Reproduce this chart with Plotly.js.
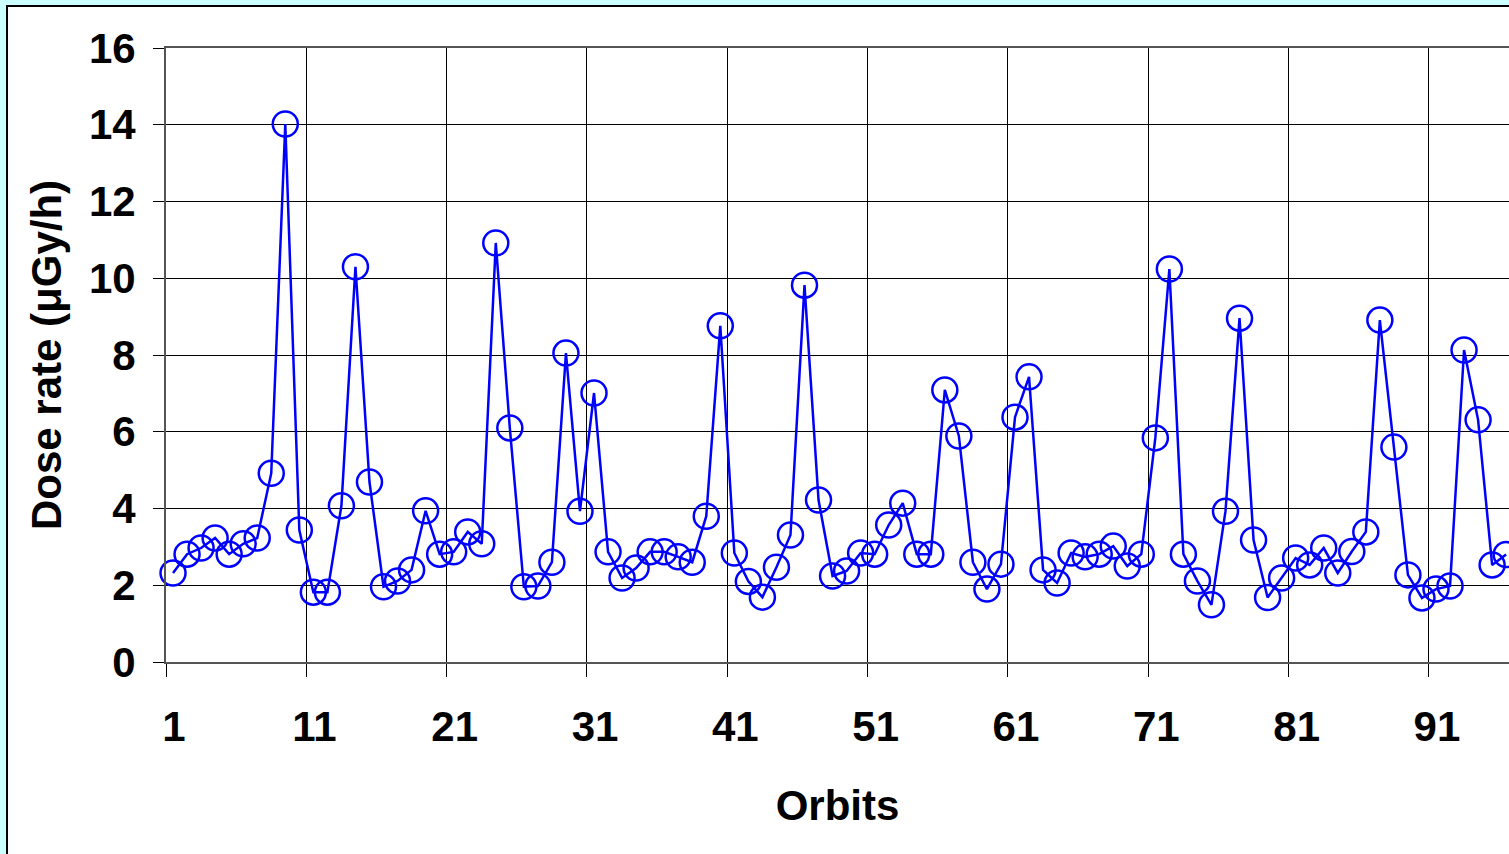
<!DOCTYPE html>
<html>
<head>
<meta charset="utf-8">
<script src="https://cdn.plot.ly/plotly-3.0.1.min.js"></script>
<style>
  html, body { margin: 0; padding: 0; width: 1509px; height: 854px; overflow: hidden; background: #CCFFFF; }
  #frame { position: absolute; left: 6px; top: 5px; right: 0; bottom: 0; background: #ffffff;
           border-left: 2px solid #000; border-top: 2px solid #000; overflow: hidden; }
  #chart { position: absolute; left: 0; top: 0; width: 1501px; height: 847px; }
</style>
</head>
<body>
<div id="frame"><div id="chart"></div></div>
<script>
// Dose rate per orbit (µGy/h)
const doseRate = [
  2.32, 2.81, 2.97, 3.23, 2.81, 3.08, 3.23, 4.92, 14.02, 3.44,
  1.82, 1.82, 4.07, 10.30, 4.69, 1.96, 2.11, 2.40, 3.94, 2.81,
  2.87, 3.39, 3.08, 10.92, 6.10, 1.96, 1.98, 2.60, 8.05, 3.93,
  7.01, 2.87, 2.19, 2.45, 2.87, 2.87, 2.74, 2.60, 3.80, 8.76,
  2.84, 2.10, 1.69, 2.47, 3.31, 9.82, 4.22, 2.24, 2.37, 2.84,
  2.81, 3.57, 4.14, 2.81, 2.81, 7.09, 5.89, 2.60, 1.90, 2.55,
  6.38, 7.43, 2.40, 2.06, 2.84, 2.74, 2.81, 3.02, 2.50, 2.81,
  5.84, 10.24, 2.81, 2.11, 1.49, 3.93, 8.96, 3.18, 1.68, 2.19,
  2.71, 2.53, 2.97, 2.32, 2.88, 3.39, 8.91, 5.60, 2.27, 1.67,
  1.90, 1.98, 8.13, 6.31, 2.53, 2.80
];
// Orbit numbers (categories)
const orbits = doseRate.map((_, i) => i + 1);
// Category axis labels
const xTickLabels = ["1", "11", "21", "31", "41", "51", "61", "71", "81", "91"];
const yTickValues = [0, 2, 4, 6, 8, 10, 12, 14, 16];

// Gridlines/ticks sit on category boundaries (Excel "between tick marks")
const xTickPositions = xTickLabels.map(s => Number(s) - 0.5);

const fontFamily = 'Liberation Sans, Arial, Helvetica, sans-serif';
const FS = 42;

const trace = {
  x: orbits,
  y: doseRate,
  type: 'scatter',
  mode: 'lines+markers',
  line: { color: '#0000FF', width: 2.5 },
  marker: { symbol: 'circle-open', size: 25, color: '#0000FF', line: { color: '#0000FF', width: 2.5 } },
  cliponaxis: false,
  hoverinfo: 'x+y'
};

const layout = {
  width: 1501,
  height: 847,
  margin: { l: 158, t: 41, r: 0, b: 192, pad: 0 },
  paper_bgcolor: '#ffffff',
  plot_bgcolor: '#ffffff',
  showlegend: false,
  font: { family: fontFamily, color: '#000000' },
  xaxis: {
    range: [0.5, 0.5 + 1343 / 14.033],
    tickmode: 'array',
    tickvals: xTickPositions,
    ticktext: xTickLabels,
    ticklabelshift: 8,
    ticklabelstandoff: 14,
    ticks: 'outside',
    ticklen: 13,
    tickwidth: 1,
    tickcolor: '#000000',
    showgrid: true,
    gridcolor: '#000000',
    gridwidth: 1,
    zeroline: false,
    showline: true,
    linecolor: '#555555',
    linewidth: 2,
    mirror: true,
    tickfont: { family: fontFamily, size: FS, weight: 'bold', color: '#000' },
    title: { text: 'Orbits', font: { family: fontFamily, size: FS, weight: 'bold', color: '#000' }, standoff: 41 }
  },
  yaxis: {
    range: [0, 16],
    tickmode: 'array',
    tickvals: yTickValues,
    ticks: 'outside',
    ticklen: 11,
    tickwidth: 1,
    tickcolor: '#000000',
    ticklabelstandoff: 9,
    showgrid: true,
    gridcolor: '#000000',
    gridwidth: 1,
    zeroline: false,
    showline: true,
    linecolor: '#555555',
    linewidth: 2,
    tickfont: { family: fontFamily, size: FS, weight: 'bold', color: '#000' },
    title: { text: 'Dose rate (μGy/h)', font: { family: fontFamily, size: FS, weight: 'bold', color: '#000' }, standoff: 14 }
  }
};

Plotly.newPlot('chart', [trace], layout, { displayModeBar: false, staticPlot: true });
</script>
</body>
</html>
